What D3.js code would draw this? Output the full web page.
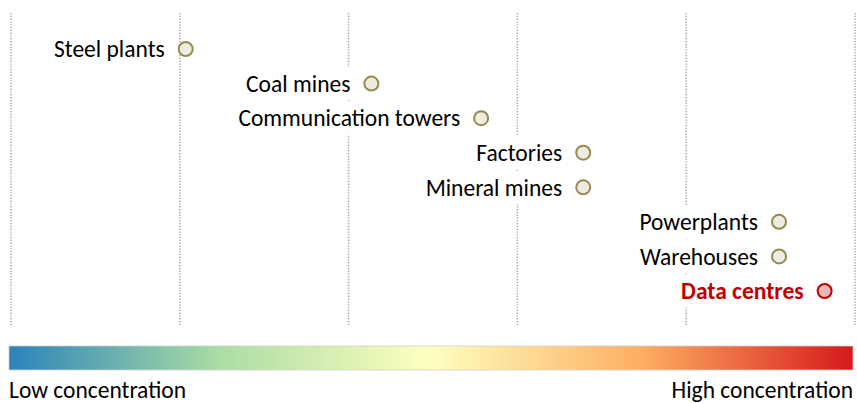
<!DOCTYPE html>
<html>
<head>
<meta charset="utf-8">
<script src="https://cdn.jsdelivr.net/npm/d3@7"></script>
<style>
  html, body { margin: 0; padding: 0; background: #fff; }
  svg { display: block; }
  text { font-family: Carlito, Lato, "Open Sans", sans-serif; }
</style>
</head>
<body>
<svg id="chart" width="857" height="403"></svg>
<script>
// ---- data ----
const categories = ["Steel plants", "Coal mines", "Communication towers", "Factories",
                    "Mineral mines", "Powerplants", "Warehouses", "Data centres"];
const concentration = [20.7, 42.7, 55.7, 67.8, 67.8, 91.0, 91.0, 96.4];
const highlighted = ["Data centres"];
const gridTicks = [0, 20, 40, 60, 80, 100];
const legendLabels = ["Low concentration", "High concentration"];
const gradientColors = ["#2b83ba", "#abdda4", "#ffffbf", "#fdae61", "#d7191c"];

const data = categories.map((c, i) => ({ name: c, value: concentration[i], hi: highlighted.includes(c) }));

const svg = d3.select("#chart");

const x = d3.scaleLinear().domain([0, 100]).range([11, 855]);
const y = d3.scalePoint().domain(categories).range([49, 291]);

// gridlines
svg.append("g").selectAll("line").data(gridTicks).join("line")
  .attr("x1", d => x(d)).attr("x2", d => x(d))
  .attr("y1", 13).attr("y2", 325)
  .attr("stroke", "#a6a6a6")
  .attr("stroke-width", 1.5)
  .attr("stroke-dasharray", "1.3,1.5");

const FS = 23.5;
const rows = svg.append("g").selectAll("g").data(data).join("g");

rows.append("rect").attr("fill", "#fff");

const labels = rows.append("text")
  .attr("x", d => x(d.value) - 21)
  .attr("y", d => y(d.name))
  .attr("dy", "0.35em")
  .attr("text-anchor", "end")
  .attr("font-size", FS)
  .attr("font-weight", d => d.hi ? "bold" : "normal")
  .attr("fill", d => d.hi ? "#c00000" : "#000")
  .text(d => d.name);

labels.each(function(d) {
  const bb = this.getBBox();
  d3.select(this.parentNode).select("rect")
    .attr("x", bb.x - 3).attr("width", bb.width + 6)
    .attr("y", y(d.name) - 16.5).attr("height", 33);
});

rows.append("circle")
  .attr("cx", d => x(d.value))
  .attr("cy", d => y(d.name))
  .attr("r", 7)
  .attr("fill", d => d.hi ? "#e6b9b8" : "#eeece1")
  .attr("stroke", d => d.hi ? "#c00000" : "#948a54")
  .attr("stroke-width", 2);

// colour bar
const defs = svg.append("defs");
const grad = defs.append("linearGradient").attr("id", "conc").attr("x1", "0%").attr("x2", "100%");
grad.selectAll("stop").data(gradientColors).join("stop")
  .attr("offset", (d, i) => (i / (gradientColors.length - 1) * 100) + "%")
  .attr("stop-color", d => d);

const barX = d3.scaleLinear().domain([0, 1]).range([9, 853]);
svg.append("rect")
  .attr("x", barX(0)).attr("y", 346)
  .attr("width", barX(1) - barX(0)).attr("height", 24)
  .attr("fill", "url(#conc)")
  .attr("stroke", "#d0d0d0").attr("stroke-width", 0.75);

svg.append("text").attr("x", barX(0)).attr("y", 398)
  .attr("font-size", FS).attr("fill", "#000").text(legendLabels[0]);
svg.append("text").attr("x", barX(1)).attr("y", 398)
  .attr("text-anchor", "end")
  .attr("font-size", FS).attr("fill", "#000").text(legendLabels[1]);
</script>
</body>
</html>
